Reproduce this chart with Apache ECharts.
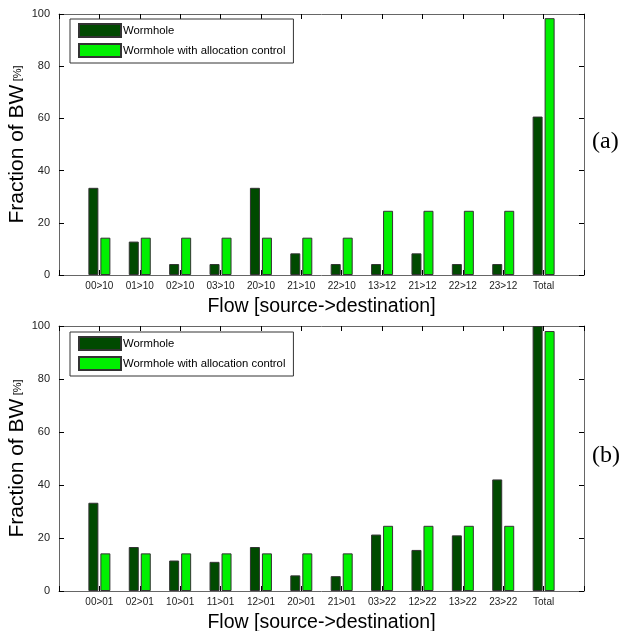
<!DOCTYPE html>
<html>
<head>
<meta charset="utf-8">
<script src="https://cdn.jsdelivr.net/npm/echarts@6/dist/echarts.min.js"></script>
<style>
  html, body { margin: 0; padding: 0; background: #fff; }
  #main { width: 622px; height: 631px; }
</style>
</head>
<body>
<div id="main"></div>
<script>
// flows and values
var flowsA = ['00>10', '01>10', '02>10', '03>10', '20>10', '21>10', '22>10', '13>12', '21>12', '22>12', '23>12', 'Total'];
var wormA = [33.4, 12.8, 4.2, 4.2, 33.4, 8.3, 4.2, 4.2, 8.3, 4.2, 4.2, 60.7];
var allocA = [14.3, 14.3, 14.3, 14.3, 14.3, 14.3, 14.3, 24.6, 24.6, 24.6, 24.6, 98.4];

var flowsB = ['00>01', '02>01', '10>01', '11>01', '12>01', '20>01', '21>01', '03>22', '12>22', '13>22', '23>22', 'Total'];
var wormB = [33.3, 16.6, 11.5, 11.0, 16.6, 5.9, 5.6, 21.3, 15.5, 21.0, 42.1, 100];
var allocB = [14.2, 14.2, 14.2, 14.2, 14.2, 14.2, 14.2, 24.6, 24.6, 24.6, 24.6, 98.1];

var yTicks = [0, 20, 40, 60, 80, 100];
var seriesNames = ['Wormhole', 'Wormhole with allocation control'];

var chart = echarts.init(document.getElementById('main'), null, {renderer: 'canvas'});

function pairs(vals) {
    return vals.map(function (v, i) { return [i + 1, v]; });
}

var axisGrey = '#666';
var lineOpt = {show: true, onZero: false, lineStyle: {color: axisGrey, width: 1}};
var tickOpt = {show: true, inside: true, length: 5, lineStyle: {color: '#000'}};

function xAxes(grid, flows) {
    return [{
        type: 'value', gridIndex: grid, min: 0, max: 13, interval: 1,
        position: 'bottom',
        axisLine: lineOpt, axisTick: tickOpt,
        splitLine: {show: false},
        axisLabel: {
            color: '#222', fontSize: 10, fontFamily: 'Liberation Sans', margin: 6,
            formatter: function (v) { return flows[v - 1] || ''; }
        },
        name: 'Flow [source->destination]', nameLocation: 'middle', nameGap: 22,
        nameTextStyle: {fontSize: 19.5, fontFamily: 'Liberation Sans', color: '#000'}
    }, {
        type: 'value', gridIndex: grid, min: 0, max: 13, interval: 1,
        position: 'top',
        axisLine: lineOpt, axisTick: tickOpt,
        axisLabel: {show: false}, splitLine: {show: false}
    }];
}

function yAxes(grid) {
    return [{
        type: 'value', gridIndex: grid, min: 0, max: 100, interval: 20,
        position: 'left',
        axisLine: lineOpt, axisTick: tickOpt,
        splitLine: {show: false},
        axisLabel: {
            color: '#222', fontSize: 11, fontFamily: 'Liberation Sans', margin: 9,
            formatter: function (v) { return yTicks.indexOf(v) >= 0 ? String(v) : ''; }
        },
        name: '{big|Fraction of BW} {small|[%]}', nameLocation: 'middle', nameGap: 31,
        nameMoveOverlap: false,
        nameTextStyle: {
            rich: {
                big: {fontSize: 21, fontFamily: 'Liberation Sans', color: '#000'},
                small: {fontSize: 11, fontFamily: 'Liberation Sans', color: '#000'}
            }
        }
    }, {
        type: 'value', gridIndex: grid, min: 0, max: 100, interval: 20,
        position: 'right',
        axisLine: lineOpt, axisTick: tickOpt,
        axisLabel: {show: false}, splitLine: {show: false}
    }];
}

function barSeries(name, vals, xi, yi, color) {
    return {
        name: name, type: 'bar', xAxisIndex: xi, yAxisIndex: yi,
        data: pairs(vals), barWidth: 10, barGap: '20%',
        itemStyle: {color: color, borderColor: '#333', borderWidth: 1},
        animation: false
    };
}

var legendBase = {
    orient: 'vertical', itemWidth: 42, itemHeight: 13, itemGap: 5,
    padding: [4, 8, 5, 8], borderColor: '#333', borderWidth: 1,
    backgroundColor: '#fff', selectedMode: false, icon: 'rect',
    textStyle: {fontSize: 11.3, fontFamily: 'Liberation Sans', color: '#000', padding: [0, 0, 0, -3]},
    data: seriesNames
};

var option = {
    animation: false,
    backgroundColor: '#fff',
    grid: [
        {left: 59, top: 14, width: 525, height: 261, outerBoundsMode: 'none', containLabel: false},
        {left: 59, top: 326, width: 525, height: 265, outerBoundsMode: 'none', containLabel: false}
    ],
    xAxis: xAxes(0, flowsA).concat(xAxes(1, flowsB)),
    yAxis: yAxes(0).concat(yAxes(1)),
    legend: [
        Object.assign({left: 70, top: 19}, legendBase),
        Object.assign({left: 70, top: 332}, legendBase)
    ],
    series: [
        barSeries(seriesNames[0], wormA, 0, 0, '#004a00'),
        barSeries(seriesNames[1], allocA, 0, 0, '#00f000'),
        barSeries(seriesNames[0], wormB, 2, 2, '#004a00'),
        barSeries(seriesNames[1], allocB, 2, 2, '#00f000')
    ],
    graphic: [
        {type: 'text', left: 592, top: 130, style: {text: '(a)', fontSize: 24, fontFamily: 'Liberation Serif', fill: '#000'}},
        {type: 'text', left: 592, top: 444, style: {text: '(b)', fontSize: 24, fontFamily: 'Liberation Serif', fill: '#000'}}
    ]
};

chart.setOption(option);
</script>
</body>
</html>
